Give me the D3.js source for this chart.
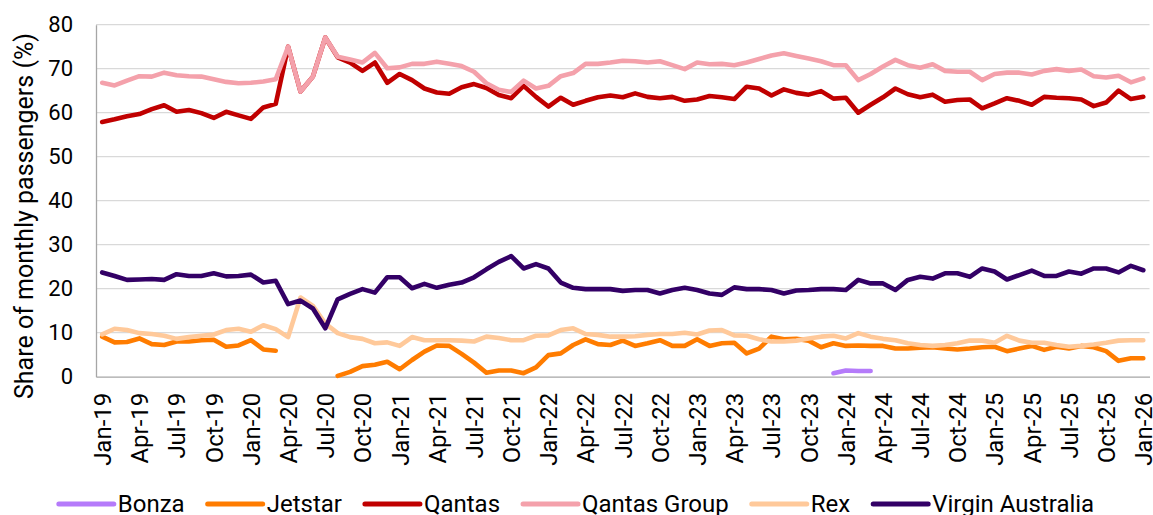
<!DOCTYPE html>
<html>
<head>
<meta charset="utf-8">
<script src="https://cdn.jsdelivr.net/npm/d3@7"></script>
<style>
  body { margin: 0; background: #fff; }
  svg { display: block; font-family: Roboto, "Noto Sans", sans-serif; }
</style>
</head>
<body>
<script>
const months = [
  "Jan-19","Feb-19","Mar-19","Apr-19","May-19","Jun-19","Jul-19","Aug-19","Sep-19","Oct-19","Nov-19","Dec-19",
  "Jan-20","Feb-20","Mar-20","Apr-20","May-20","Jun-20","Jul-20","Aug-20","Sep-20","Oct-20","Nov-20","Dec-20",
  "Jan-21","Feb-21","Mar-21","Apr-21","May-21","Jun-21","Jul-21","Aug-21","Sep-21","Oct-21","Nov-21","Dec-21",
  "Jan-22","Feb-22","Mar-22","Apr-22","May-22","Jun-22","Jul-22","Aug-22","Sep-22","Oct-22","Nov-22","Dec-22",
  "Jan-23","Feb-23","Mar-23","Apr-23","May-23","Jun-23","Jul-23","Aug-23","Sep-23","Oct-23","Nov-23","Dec-23",
  "Jan-24","Feb-24","Mar-24","Apr-24","May-24","Jun-24","Jul-24","Aug-24","Sep-24","Oct-24","Nov-24","Dec-24",
  "Jan-25","Feb-25","Mar-25","Apr-25","May-25","Jun-25","Jul-25","Aug-25","Sep-25","Oct-25","Nov-25","Dec-25",
  "Jan-26"
];

// shown on the x axis (every quarter)
const tickLabels = months.filter((m) => /^(Jan|Apr|Jul|Oct)/.test(m));

const yTicks = [0, 10, 20, 30, 40, 50, 60, 70, 80];

const _ = null;

const bonza = [
  _,_,_,_,_,_,_,_,_,_,_,_,
  _,_,_,_,_,_,_,_,_,_,_,_,
  _,_,_,_,_,_,_,_,_,_,_,_,
  _,_,_,_,_,_,_,_,_,_,_,_,
  _,_,_,_,_,_,_,_,_,_,_,0.8,
  1.4,1.3,1.3,_,_,_,_,_,_,_,_,_,
  _,_,_,_,_,_,_,_,_,_,_,_,
  _
];

const jetstar = [
  9.1,7.8,7.9,8.7,7.4,7.2,8.0,8.0,8.3,8.4,6.8,7.1,
  8.3,6.2,5.9,_,_,_,_,0.2,1.1,2.4,2.7,3.4,
  1.7,3.8,5.7,7.1,7.0,5.2,3.2,0.9,1.4,1.4,0.8,2.1,
  4.9,5.3,7.2,8.5,7.4,7.2,8.2,7.0,7.6,8.3,7.0,7.0,
  8.5,7.0,7.6,7.7,5.3,6.4,9.1,8.5,8.6,8.2,6.7,7.6,
  7.0,7.1,7.0,7.0,6.4,6.4,6.6,6.7,6.4,6.2,6.4,6.7,
  6.8,5.8,6.4,7.0,6.1,6.8,6.4,7.0,6.7,5.8,3.6,4.2,
  4.2
];

const qantas = [
  57.9,58.5,59.2,59.7,60.8,61.7,60.2,60.6,59.9,58.8,60.2,59.4,
  58.6,61.2,62.0,75.0,64.8,68.2,77.1,72.6,71.4,69.5,71.4,66.8,
  68.8,67.4,65.5,64.6,64.3,65.8,66.5,65.6,64.0,63.3,66.1,63.6,
  61.4,63.4,61.8,62.7,63.5,63.9,63.5,64.4,63.6,63.3,63.6,62.7,
  63.0,63.8,63.5,63.1,65.9,65.5,63.9,65.3,64.5,64.1,64.9,63.2,
  63.4,60.0,61.8,63.5,65.5,64.2,63.5,64.1,62.5,62.9,63.0,61.0,
  62.1,63.3,62.7,61.8,63.6,63.4,63.3,63.0,61.5,62.3,65.0,63.1,
  63.6
];

const qantasGroup = [
  66.8,66.2,67.3,68.3,68.2,69.1,68.5,68.3,68.2,67.6,67.0,66.7,
  66.8,67.1,67.6,75.0,64.8,68.2,77.1,72.7,72.1,71.4,73.6,70.1,
  70.3,71.1,71.1,71.6,71.1,70.6,69.3,66.7,65.2,64.7,67.3,65.5,
  66.1,68.3,69.0,71.1,71.1,71.4,71.8,71.7,71.4,71.7,70.8,69.9,
  71.4,71.0,71.1,70.8,71.4,72.2,73.0,73.5,72.9,72.3,71.7,70.8,
  70.8,67.4,68.8,70.5,72.0,70.8,70.2,71.0,69.5,69.3,69.3,67.4,
  68.8,69.1,69.1,68.7,69.5,69.9,69.5,69.8,68.3,68.0,68.4,66.9,
  67.8
];

const rex = [
  9.6,10.9,10.6,9.9,9.7,9.3,8.6,9.0,9.3,9.6,10.6,10.9,
  10.2,11.7,10.8,9.0,18.0,16.1,12.1,9.9,9.0,8.6,7.6,7.8,
  7.0,9.0,8.3,8.3,8.3,8.2,8.0,9.1,8.8,8.3,8.3,9.3,
  9.4,10.6,11.0,9.7,9.5,9.1,9.1,9.2,9.5,9.7,9.7,10.0,
  9.6,10.5,10.6,9.4,9.3,8.5,8.0,8.0,8.2,8.7,9.1,9.3,
  8.7,9.9,9.1,8.6,8.3,7.6,7.2,7.0,7.2,7.6,8.2,8.2,
  7.7,9.3,8.2,7.7,7.7,7.2,6.8,7.0,7.3,7.7,8.2,8.3,
  8.3
];

const virgin = [
  23.7,22.9,22.0,22.1,22.2,22.0,23.3,22.9,22.9,23.5,22.8,22.9,
  23.2,21.4,21.8,16.5,17.3,15.5,11.0,17.6,18.8,19.9,19.1,22.6,
  22.6,20.1,21.1,20.2,20.9,21.4,22.6,24.4,26.1,27.4,24.6,25.6,
  24.6,21.4,20.2,19.9,19.9,19.9,19.5,19.7,19.7,18.9,19.7,20.2,
  19.7,18.9,18.6,20.3,19.9,19.9,19.7,18.9,19.6,19.7,19.9,19.9,
  19.7,22.0,21.2,21.2,19.7,22.0,22.7,22.3,23.5,23.5,22.7,24.6,
  23.9,22.1,23.1,24.1,22.9,22.9,23.9,23.4,24.6,24.6,23.7,25.2,
  24.2
];

const seriesNames = ["Bonza", "Jetstar", "Qantas", "Qantas Group", "Rex", "Virgin Australia"];
const seriesValues = [bonza, jetstar, qantas, qantasGroup, rex, virgin];
const colors = ["#B57BFA", "#FF7C00", "#C00000", "#F4A1AB", "#FFC99A", "#330066"];

const W = 1153, H = 515;
const margin = { top: 24.7, right: 3.5, bottom: 138.3, left: 96 };

const svg = d3.select("body").append("svg")
    .attr("width", W)
    .attr("height", H);

const x = d3.scalePoint()
    .domain(months)
    .range([margin.left, W - margin.right])
    .padding(0.5);

const y = d3.scaleLinear()
    .domain([0, 80])
    .range([H - margin.bottom, margin.top]);

// gridlines
svg.append("g")
  .selectAll("line")
  .data(yTicks.filter((t) => t > 0))
  .join("line")
    .attr("x1", margin.left)
    .attr("x2", W - margin.right)
    .attr("y1", (d) => y(d))
    .attr("y2", (d) => y(d))
    .attr("stroke", "#D9D9D9")
    .attr("stroke-width", 1.3);

// y axis
const yAxis = svg.append("g")
    .attr("transform", `translate(${margin.left},0)`)
    .call(d3.axisLeft(y).tickValues(yTicks).tickSize(0).tickPadding(23));
yAxis.select(".domain").attr("stroke", "#A6A6A6").attr("stroke-width", 1.3);
yAxis.selectAll("text")
    .attr("font-size", 22)
    .attr("fill", "#000")
    .style("font-family", "Roboto");

// x axis
const xAxis = svg.append("g")
    .attr("transform", `translate(0,${y(0)})`)
    .call(d3.axisBottom(x).tickValues(tickLabels).tickSize(0));
xAxis.select(".domain").attr("stroke", "#A6A6A6").attr("stroke-width", 1.3);
xAxis.selectAll("text")
    .attr("font-size", 24)
    .attr("fill", "#000")
    .style("font-family", "Roboto")
    .attr("text-anchor", "end")
    .attr("transform", "rotate(-90)")
    .attr("x", -16)
    .attr("y", 0)
    .attr("dy", "0.35em");

// y title
svg.append("text")
    .attr("transform", `translate(33,216) rotate(-90)`)
    .attr("text-anchor", "middle")
    .attr("font-size", 25)
    .attr("fill", "#000")
    .text("Share of monthly passengers (%)");

// lines
const line = d3.line()
    .defined((d) => d != null)
    .x((d, i) => x(months[i]))
    .y((d) => y(d));

svg.append("g")
  .selectAll("path")
  .data(seriesValues)
  .join("path")
    .attr("fill", "none")
    .attr("stroke", (d, i) => colors[i])
    .attr("stroke-width", 4.6)
    .attr("stroke-linejoin", "round")
    .attr("stroke-linecap", "round")
    .attr("d", line);

// legend
const legend = svg.append("g");
const items = legend.selectAll("g")
  .data(seriesNames)
  .join("g");

items.append("line")
    .attr("x1", 0).attr("x2", 55)
    .attr("y1", 0).attr("y2", 0)
    .attr("stroke", (d, i) => colors[i])
    .attr("stroke-width", 5)
    .attr("stroke-linecap", "round");

items.append("text")
    .attr("x", 59)
    .attr("dy", "0.35em")
    .attr("font-size", 24)
    .attr("fill", "#000")
    .text((d) => d);

let pos = 0;
items.each(function () {
  const g = d3.select(this);
  g.attr("transform", `translate(${pos},0)`);
  pos += 59 + g.select("text").node().getComputedTextLength() + 23;
});
pos -= 23;
legend.attr("transform", `translate(${(W - pos) / 2},504)`);
</script>
</body>
</html>
